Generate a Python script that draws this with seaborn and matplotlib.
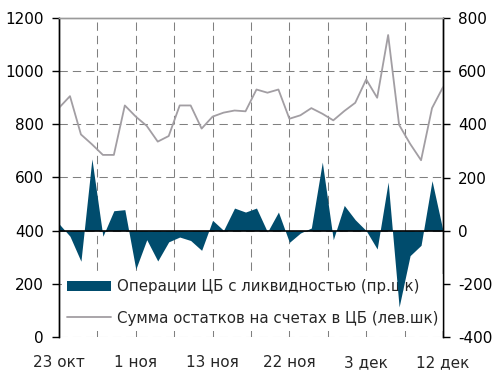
import matplotlib
matplotlib.use("Agg")
import matplotlib.pyplot as plt
import seaborn as sns
import pandas as pd
import numpy as np
from matplotlib.patches import Patch
from matplotlib.lines import Line2D

# Daily observations, 23 Oct - 12 Dec (business days)
tick_labels = ["23 окт", "1 ноя", "13 ноя", "22 ноя", "3 дек", "12 дек"]
balances = [862, 906, 762, 725, 685, 685, 871, 829, 794, 735, 756, 871,
            871, 784, 829, 844, 852, 849, 931, 919, 931, 821, 834, 861,
            840, 815, 850, 881, 969, 900, 1136, 798, 727, 665, 861, 940]
operations = [26, -21, -115, 270, -21, 75, 79, -145, -34, -114, -42, -24,
              -37, -74, 39, 1, 85, 70, 85, -5, 70, -44, -9, 10,
              258, -34, 95, 41, 0, -69, 183, -287, -94, -55, 188, 0]

label_ops = "Операции ЦБ с ликвидностью (пр.шк)"
label_bal = "Сумма остатков на счетах в ЦБ (лев.шк)"

df = pd.DataFrame({"day": np.arange(len(balances)),
                   "balance": balances,
                   "ops": operations})

sns.set_style("white")
plt.rcParams["font.family"] = ["DejaVu Sans"]
plt.rcParams["axes.unicode_minus"] = False

AREA = "#004c6d"
LINE = "#a29ea3"
GRID = "#808080"
FS = 11

fig = plt.figure(figsize=(4.92, 3.70), dpi=100)
ax = fig.add_axes([59 / 492, 33 / 370, 384 / 492, 319 / 370])
ax2 = ax.twinx()

# grey line: balances on the left axis
sns.lineplot(data=df, x="day", y="balance", ax=ax, color=LINE, lw=1.3,
             legend=False, zorder=3)

# area: operations on the right axis
ax2.fill_between(df["day"], df["ops"], 0, color=AREA, lw=0, zorder=2)
ax2.axhline(0, color="black", lw=1.2, zorder=4)

n = len(balances) - 1
ax.set_xlim(0, n)
ax.set_ylim(0, 1200)
ax2.set_ylim(-400, 800)

ax.set_yticks(range(0, 1201, 200))
ax2.set_yticks(range(-400, 801, 200))
ax.set_xticks(np.arange(0, n + 1, 7))
ax.set_xticklabels(tick_labels)

dash = (0, (8, 4.8))
for y in range(0, 1200, 200):
    ax.axhline(y, color=GRID, lw=0.75, ls=dash, zorder=1)
for x in np.arange(3.5, n, 3.5):
    ax.axvline(x, color=GRID, lw=0.75, ls=dash, zorder=1)

ax.set_xlabel("")
ax.set_ylabel("")
ax2.set_ylabel("")

for a in (ax, ax2):
    a.spines["bottom"].set_visible(False)
    a.spines["top"].set_color("#9a9a9a")
    a.spines["top"].set_linewidth(1.0)
    a.spines["left"].set_color("black")
    a.spines["right"].set_color("black")
    a.spines["left"].set_linewidth(1.0)
    a.spines["right"].set_linewidth(1.0)

ax.tick_params(axis="y", which="both", left=True, length=5, width=1,
               direction="out", pad=6, labelsize=FS, colors="black")
ax2.tick_params(axis="y", right=True, length=5, width=1, direction="out",
                pad=6, labelsize=FS, colors="black")
ax.tick_params(axis="x", bottom=False, length=0, pad=13, labelsize=FS)

handles = [Patch(facecolor=AREA, edgecolor="none"),
           Line2D([0], [0], color=LINE, lw=1.3)]
leg = ax.legend(handles, [label_ops, label_bal], loc="lower left",
                bbox_to_anchor=(0.0, 0.01), frameon=True, fancybox=False,
                framealpha=1, facecolor="white", edgecolor="none",
                fontsize=10.8, handlelength=2.9, handleheight=0.7,
                handletextpad=0.4, labelspacing=1.08, borderpad=0.35,
                borderaxespad=0.2)
leg.set_zorder(5)

fig.savefig("out.png", dpi=100)
